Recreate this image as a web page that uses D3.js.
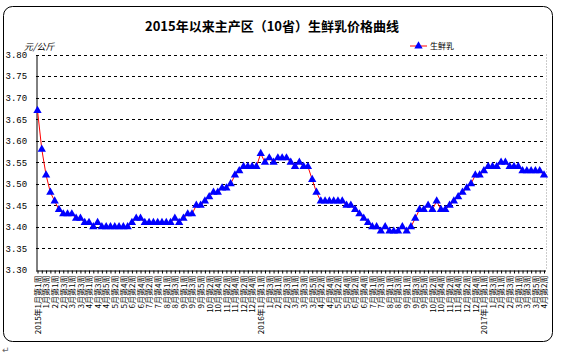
<!DOCTYPE html>
<html><head><meta charset="utf-8">
<script src="https://cdn.jsdelivr.net/npm/d3@7"></script>
<style>
html,body{margin:0;padding:0;background:#fff;}
svg{display:block;}
</style></head>
<body>
<svg id="chart" width="563" height="356"></svg>
<script>
// ---- data ----
const title = "2015年以来主产区（10省）生鲜乳价格曲线";
const unitLabel = "元/公斤";
const seriesName = "生鲜乳";
const years = [2015, 2016, 2017];
// weeks counted in each month, per year (as labelled in the source)
const weeks2015 = [4,4,4,5,4,4,5,4,5,4,4,5];
const weeks2016 = [4,4,5,4,4,5,4,4,5,4,4,5];
const weeks2017 = [4,4,5,2];
const yTicks = [3.30,3.35,3.40,3.45,3.50,3.55,3.60,3.65,3.70,3.75,3.80];
const prices = [
 3.67,3.58,3.52,3.48,3.46,3.44,3.43,3.43,3.43,3.42,
 3.42,3.41,3.41,3.40,3.41,3.40,3.40,3.40,3.40,3.40,
 3.40,3.40,3.41,3.42,3.42,3.41,3.41,3.41,3.41,3.41,
 3.41,3.41,3.42,3.41,3.42,3.43,3.43,3.45,3.45,3.46,
 3.47,3.48,3.48,3.49,3.49,3.50,3.52,3.53,3.54,3.54,
 3.54,3.54,3.57,3.55,3.56,3.55,3.56,3.56,3.56,3.55,
 3.54,3.55,3.54,3.54,3.51,3.48,3.46,3.46,3.46,3.46,
 3.46,3.46,3.45,3.45,3.44,3.43,3.42,3.41,3.40,3.40,
 3.39,3.40,3.39,3.39,3.39,3.40,3.39,3.40,3.42,3.44,
 3.44,3.45,3.44,3.46,3.44,3.44,3.45,3.46,3.47,3.48,
 3.49,3.50,3.52,3.52,3.53,3.54,3.54,3.54,3.55,3.55,
 3.54,3.54,3.54,3.53,3.53,3.53,3.53,3.53,3.52
];

// build week category labels
const categories = [];
[weeks2015, weeks2016, weeks2017].forEach((wk, yi) => {
  wk.forEach((n, mi) => {
    for (let w = 1; w <= n; w++) {
      const first = (mi === 0 && w === 1);
      categories.push((first ? years[yi] + "年" : "") + (mi + 1) + "月第" + w + "周");
    }
  });
});

// ---- layout ----
const svg = d3.select("#chart");
const plotL = 36, plotR = 546, plotT = 54.5, plotB = 270;
const x = d3.scalePoint().domain(d3.range(prices.length)).range([37.5, 544]);
const y = d3.scaleLinear().domain([3.30, 3.80]).range([plotB, plotT]);

// outer rounded frame
svg.append("rect").attr("x", 3.5).attr("y", 6.5).attr("width", 549).attr("height", 335)
  .attr("rx", 9).attr("fill", "#fff").attr("stroke", "#000").attr("stroke-width", 1);

// Word paragraph mark below frame
svg.append("text").attr("x", 2).attr("y", 353).attr("font-size", 9)
  .attr("font-family", "DejaVu Sans").attr("fill", "#666").text("↵");

// title
svg.append("text").attr("x", 272).attr("y", 31).attr("text-anchor", "middle")
  .attr("font-family", "'Noto Sans CJK SC', sans-serif").attr("font-weight", "bold")
  .attr("font-size", 13).text(title);

// gridlines
svg.append("g").selectAll("line").data(yTicks.filter(v => v > 3.30)).join("line")
  .attr("x1", plotL).attr("x2", plotR)
  .attr("y1", d => Math.round(y(d)) + 0.5).attr("y2", d => Math.round(y(d)) + 0.5)
  .attr("stroke", "#000").attr("stroke-width", 1).attr("stroke-dasharray", "3,3");

// right plot border (dotted)
svg.append("line").attr("x1", plotR + 0.5).attr("x2", plotR + 0.5)
  .attr("y1", plotT).attr("y2", plotB).attr("stroke", "#999").attr("stroke-dasharray", "1,2");

// y axis
const yAxis = d3.axisLeft(y).tickValues(yTicks).tickSize(0).tickFormat(d3.format(".2f"));
const gy = svg.append("g").attr("transform", `translate(${plotL + 0.5},0)`).call(yAxis);
gy.select(".domain").attr("stroke", "#000");
gy.selectAll("text").attr("x", -31).attr("text-anchor", "start")
  .attr("font-family", "'Liberation Mono', monospace").attr("font-size", 9).attr("fill", "#000");

// unit label
svg.append("text").attr("x", 24).attr("y", 50).attr("font-size", 9).attr("font-style", "italic")
  .attr("font-family", "'Noto Sans CJK SC', sans-serif").text(unitLabel);

// x axis
const xAxis = d3.axisBottom(x).tickSize(3).tickFormat(i => i % 2 === 0 ? categories[i] : "");
const gx = svg.append("g").attr("transform", `translate(0,${plotB + 0.5})`).call(xAxis);
gx.select(".domain").attr("d", `M${plotL},0.5H${plotR}`).attr("stroke", "#000");
gx.selectAll(".tick line").attr("stroke", "#000");
gx.selectAll("text")
  .attr("font-family", "'Noto Sans CJK SC', sans-serif").attr("font-size", 8).attr("fill", "#000")
  .attr("transform", "rotate(-90)").attr("text-anchor", "end")
  .attr("x", -5).attr("y", 0).attr("dy", "0.35em");

// line
const line = d3.line().x((d, i) => x(i)).y(d => y(d));
svg.append("path").datum(prices).attr("d", line)
  .attr("fill", "none").attr("stroke", "#ff0000").attr("stroke-width", 1);

// markers
const tri = d3.symbol().type(d3.symbolTriangle).size(30);
svg.append("g").selectAll("path").data(prices).join("path")
  .attr("d", tri).attr("transform", (d, i) => `translate(${x(i)},${y(d)})`)
  .attr("fill", "#0000ff");

// legend
const lg = svg.append("g").attr("transform", "translate(410,46)");
lg.append("line").attr("x1", 0).attr("x2", 17).attr("y1", 0).attr("y2", 0).attr("stroke", "#ff0000");
lg.append("path").attr("d", tri).attr("transform", "translate(8.5,0)").attr("fill", "#0000ff");
lg.append("text").attr("x", 20).attr("y", 3).attr("font-size", 8)
  .attr("font-family", "'Noto Sans CJK SC', sans-serif").text(seriesName);
</script>
</body></html>
